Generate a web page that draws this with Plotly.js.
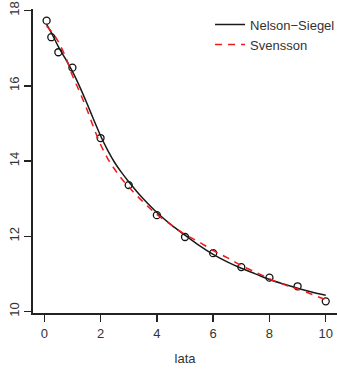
<!DOCTYPE html>
<html>
<head>
<meta charset="utf-8">
<script src="https://cdn.plot.ly/plotly-3.0.1.min.js"></script>
<style>html,body{margin:0;padding:0;background:#fff;}#chart{width:337px;height:371px;}</style>
</head>
<body>
<div id="chart"></div>
<script>
// observed yields (circles)
var obsX = [0.083, 0.25, 0.5, 1, 2, 3, 4, 5, 6, 7, 8, 9, 10];
var obsY = [17.73, 17.29, 16.89, 16.48, 14.61, 13.36, 12.56, 11.98, 11.55, 11.18, 10.90, 10.67, 10.27];

// fitted curves
var curveX = [0.083, 0.25, 0.5, 0.75, 1, 1.25, 1.5, 1.75, 2, 2.25, 2.5, 2.75, 3, 3.5, 4, 4.5, 5, 5.5, 6, 6.5, 7, 7.5, 8, 8.5, 9, 9.5, 10];
var nelsonSiegel = [17.63, 17.41, 17.04, 16.72, 16.38, 15.99, 15.56, 15.11, 14.67, 14.29, 13.96, 13.69, 13.45, 13.01, 12.63, 12.31, 12.03, 11.76, 11.52, 11.32, 11.15, 11.00, 10.85, 10.73, 10.62, 10.52, 10.43];
var svensson = [17.58, 17.45, 17.17, 16.78, 16.27, 15.85, 15.40, 14.90, 14.44, 14.07, 13.78, 13.53, 13.31, 12.92, 12.58, 12.31, 12.05, 11.85, 11.62, 11.43, 11.22, 11.05, 10.87, 10.72, 10.60, 10.46, 10.31];

var xTicks = [0, 2, 4, 6, 8, 10];
var yTicks = [10, 12, 14, 16, 18];

var font = "Liberation Sans, Arial, sans-serif";

var traces = [
  {x: obsX, y: obsY, mode: "markers", type: "scatter", showlegend: false,
   marker: {symbol: "circle-open", size: 7, color: "#111", line: {width: 1.3, color: "#111"}}},
  {x: curveX, y: nelsonSiegel, mode: "lines", type: "scatter", name: "Nelson\u2212Siegel",
   line: {color: "#1a1a1a", width: 1.5, shape: "spline", smoothing: 1}},
  {x: curveX, y: svensson, mode: "lines", type: "scatter", name: "Svensson",
   line: {color: "#f01818", width: 1.5, dash: "7px,6px", shape: "spline", smoothing: 1}}
];

var layout = {
  width: 337, height: 371,
  margin: {l: 33, r: 0, t: 9, b: 58, pad: 0, autoexpand: false},
  paper_bgcolor: "#fff", plot_bgcolor: "#fff",
  font: {family: font, size: 13, color: "#333"},
  xaxis: {
    range: [-0.4, 10.4], tickvals: xTicks, ticktext: xTicks.map(String),
    showline: true, linecolor: "#222", linewidth: 2, mirror: false,
    ticks: "outside", ticklen: 7, tickwidth: 1.5, tickcolor: "#222",
    showgrid: false, zeroline: false,
    tickfont: {family: font, size: 13, color: "#333"},
    title: {text: "lata", font: {family: font, size: 13, color: "#333"}, standoff: 14}
  },
  yaxis: {
    range: [9.96, 18.04], tickvals: yTicks, ticktext: yTicks.map(String),
    showline: true, linecolor: "#222", linewidth: 2, mirror: false,
    ticks: "outside", ticklen: 7, tickwidth: 1.5, tickcolor: "#222",
    showgrid: false, zeroline: false, tickangle: -90,
    tickfont: {family: font, size: 13, color: "#333"}
  },
  showlegend: true,
  legend: {
    x: 1.01, y: 0.998, xanchor: "right", yanchor: "top",
    bgcolor: "rgba(0,0,0,0)", borderwidth: 0,
    font: {family: font, size: 13, color: "#333"}
  }
};

Plotly.newPlot("chart", traces, layout, {staticPlot: true, displayModeBar: false});
</script>
</body>
</html>
